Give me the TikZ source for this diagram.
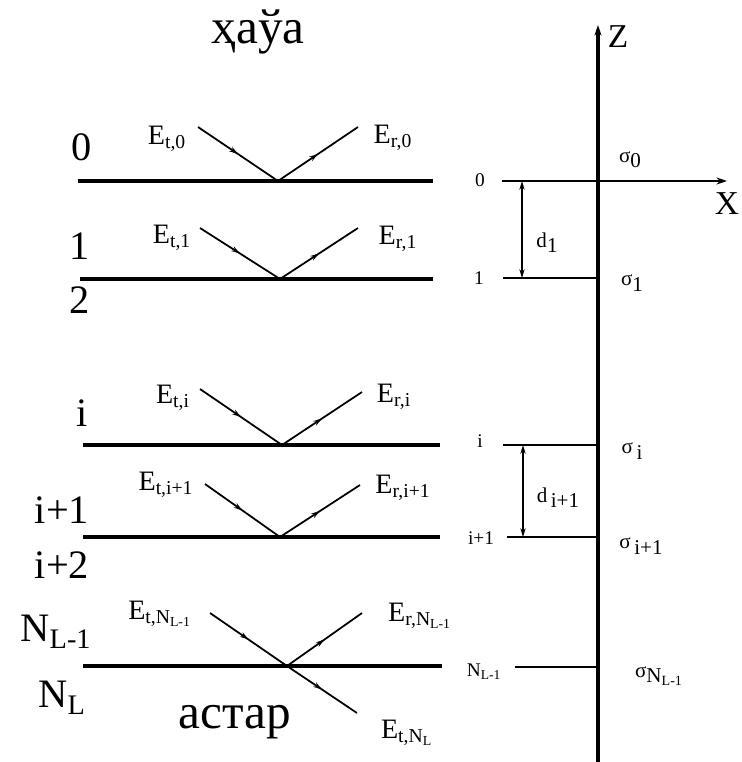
\documentclass[tikz,border=0pt]{standalone}
\usepackage{fontspec}
\setmainfont{Liberation Serif}
\usetikzlibrary{arrows.meta, decorations.markings, positioning}

\newcommand{\lowsub}[1]{\raisebox{-0.55ex}{#1}}

\tikzset{
  layer/.style={line width=2.6pt},
  ray/.style={line width=1pt, postaction={decorate},
    decoration={markings, mark=at position 0.5 with {\arrow{Stealth[length=5pt,width=3pt]}}}},
  level/.style={line width=1pt},
  zaxis/.style={line width=2pt, -{Stealth[length=6pt,width=4pt]}},
  thick gap/.style={line width=1pt, {Stealth[length=5pt,width=3pt]}-{Stealth[length=5pt,width=3pt]}},
  medium/.style={font=\fontsize{28}{30}\selectfont},
  layerlabel/.style={font=\fontsize{23}{25}\selectfont},
  fieldlabel/.style={font=\fontsize{16}{18}\selectfont},
  levellabel/.style={font=\fontsize{11}{13}\selectfont},
  sigmalabel/.style={font=\fontsize{12}{14}\selectfont},
  axislabel/.style={font=\fontsize{19}{21}\selectfont}
}

\begin{document}
\begin{tikzpicture}[x=0.02cm, y=-0.02cm]
  \useasboundingbox (0,0) rectangle (742,762);

  % media
  \node[medium] (air) at (258,32) {ҳаўа};
  \node[medium] (base) at (235,722) {астар};

  % layer boundaries
  \foreach \n/\y/\xa/\xb in {0/181/78/433, 1/279/80/433, i/445/83/440, j/537/83/440, n/666/83/442} {
    \coordinate (L\n w) at (\xa,\y);
    \coordinate (L\n e) at (\xb,\y);
    \draw[layer] (L\n w) -- (L\n e);
  }

  % layer numbers
  \node[layerlabel] (n0) at (82,147) {0};
  \node[layerlabel] (n1) at (80,246) {1};
  \node[layerlabel] (n2) at (80,300) {2};
  \node[layerlabel] (ni) at (82,413) {i};
  \node[layerlabel] (nj) at (62,510) {i+1};
  \node[layerlabel] (nk) at (62,565) {i+2};
  \node[layerlabel] (nn) at (56,632) {N\textsubscript{L-1}};
  \node[layerlabel] (nL) at (62,698) {N\textsubscript{L}};

  % incident and reflected waves
  \coordinate (V0) at (278,181); \coordinate (T0) at (198,127); \coordinate (R0) at (358,127);
  \coordinate (V1) at (280,279); \coordinate (T1) at (200,228); \coordinate (R1) at (358,228);
  \coordinate (Vi) at (282,445); \coordinate (Ti) at (200,389); \coordinate (Ri) at (362,392);
  \coordinate (Vj) at (280,537); \coordinate (Tj) at (205,484); \coordinate (Rj) at (360,485);
  \coordinate (Vn) at (287,666); \coordinate (Tn) at (210,613); \coordinate (Rn) at (362,613);
  \coordinate (Sn) at (357,713);
  \foreach \n in {0,1,i,j,n} {
    \draw[ray] (T\n) -- (V\n);
    \draw[ray] (V\n) -- (R\n);
  }
  \draw[ray] (Vn) -- (Sn);

  \node[fieldlabel] (Et0) at (167,139) {E\textsubscript{t,0}};
  \node[fieldlabel] (Er0) at (393,138) {E\textsubscript{r,0}};
  \node[fieldlabel] (Et1) at (172,238) {E\textsubscript{t,1}};
  \node[fieldlabel] (Er1) at (398,239) {E\textsubscript{r,1}};
  \node[fieldlabel] (Eti) at (173,398) {E\textsubscript{t,i}};
  \node[fieldlabel] (Eri) at (394,397) {E\textsubscript{r,i}};
  \node[fieldlabel] (Etj) at (166,485) {E\textsubscript{t,i+1}};
  \node[fieldlabel] (Erj) at (403,488) {E\textsubscript{r,i+1}};
  \node[fieldlabel] (Etn) at (160,614) {E\textsubscript{t,N\textsubscript{L-1}}};
  \node[fieldlabel] (Ern) at (420,616) {E\textsubscript{r,N\textsubscript{L-1}}};
  \node[fieldlabel] (EtL) at (407,733) {E\textsubscript{t,N\textsubscript{L}}};

  % coordinate axes
  \coordinate (zb) at (598,762);
  \coordinate (zt) at (598,25);
  \coordinate (xl) at (502,181);
  \coordinate (xr) at (727,181);
  \draw[zaxis] (zb) -- (zt);
  \draw[level, -{Stealth[length=6pt,width=4pt]}] (xl) -- (xr);
  \node[axislabel] (Z) at (618,37) {Z};
  \node[axislabel] (X) at (727,204) {X};

  % levels on the axis
  \foreach \n/\y/\xa in {1/278/503, i/445/503, j/537/507, n/667/515} {
    \coordinate (A\n w) at (\xa,\y);
    \coordinate (A\n e) at (598,\y);
    \draw[level] (A\n w) -- (A\n e);
  }
  \node[levellabel] (a0) at (480,180) {0};
  \node[levellabel] (a1) at (479,278) {1};
  \node[levellabel] (ai) at (480,441) {i};
  \node[levellabel] (aj) at (481,538) {i+1};
  \node[levellabel] (an) at (484,672) {N\textsubscript{L-1}};

  % thicknesses
  \coordinate (d1t) at (522,181); \coordinate (d1b) at (522,278);
  \coordinate (dit) at (523,445); \coordinate (dib) at (523,537);
  \draw[thick gap] (d1t) -- (d1b);
  \draw[thick gap] (dit) -- (dib);
  \node[sigmalabel] (d1) at (547,243) {d\lowsub{1}};
  \node[sigmalabel] (di) at (558,498) {d\,\lowsub{i+1}};

  % conductivities
  \node[sigmalabel] (s0) at (630,160) {σ\lowsub{0}};
  \node[sigmalabel] (s1) at (632,283) {σ\lowsub{1}};
  \node[sigmalabel] (si) at (632,451) {σ\,\lowsub{i}};
  \node[sigmalabel] (sj) at (641,546) {σ\,\lowsub{i+1}};
  \node[sigmalabel] (sn) at (659,676) {σ\lowsub{N\textsubscript{L-1}}};
\end{tikzpicture}
\end{document}
